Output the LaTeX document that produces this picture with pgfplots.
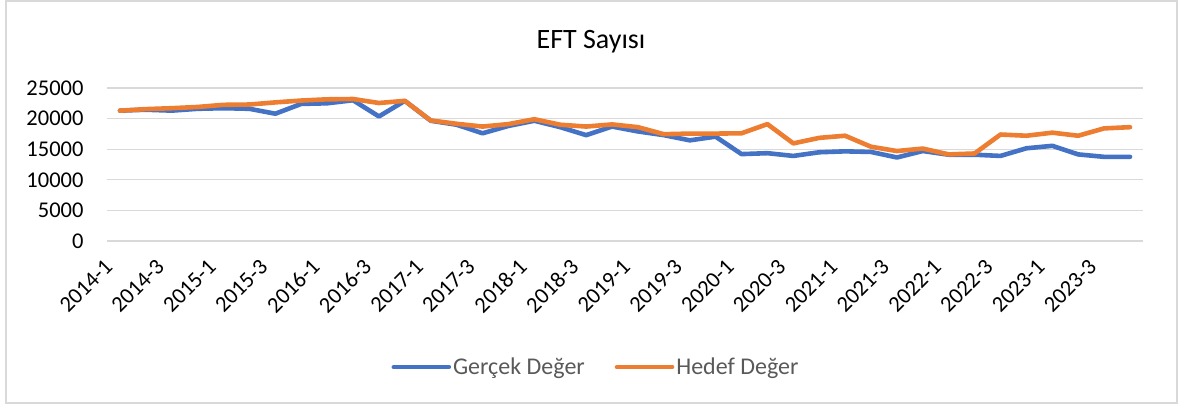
\documentclass[border=0pt]{standalone}
\usepackage{pgfplots}
\pgfplotsset{compat=1.18}
\usepackage{fontspec}
\setmainfont{Carlito}
\definecolor{gercek}{HTML}{4472C4}
\definecolor{hedef}{HTML}{ED7D31}
\definecolor{gridc}{HTML}{D9D9D9}
\definecolor{legtxt}{HTML}{595959}

\begin{document}
\begin{tikzpicture}
\useasboundingbox (0,0) rectangle (1179pt,407pt);
\draw[gridc, line width=1.5pt] (6pt,4pt) rectangle (1177pt,406pt);
\node[font=\fontsize{28}{34}\selectfont] at (591pt,365pt) {EFT Sayısı};
\begin{axis}[
  at={(107pt,166pt)}, anchor=south west,
  scale only axis, width=1036pt, height=153pt,
  xmin=-0.5, xmax=39.5, ymin=0, ymax=25000,
  ytick={0,5000,10000,15000,20000,25000},
  scaled y ticks=false,
  xtick={0,2,...,38},
  xticklabels={2014-1,2014-3,2015-1,2015-3,2016-1,2016-3,2017-1,2017-3,2018-1,2018-3,
    2019-1,2019-3,2020-1,2020-3,2021-1,2021-3,2022-1,2022-3,2023-1,2023-3},
  ymajorgrids, grid style={gridc, line width=1.3pt},
  axis line style={draw=none}, tick style={draw=none},
  /pgf/number format/assume math mode=true,
  yticklabel style={/pgf/number format/.cd, fixed, set thousands separator={}, /tikz/.cd,
    font=\fontsize{22.5}{27}\selectfont, anchor=east, xshift=-20pt},
  xticklabel style={xshift=-9pt, yshift=-20pt, rotate=45, anchor=east,
    font=\fontsize{22.5}{27}\selectfont},
  legend columns=2,
  legend style={at={(0.472,-0.824)}, anchor=center, draw=none, fill=none,
    font=\fontsize{24}{29}\selectfont, text=legtxt,
    /tikz/every even column/.append style={column sep=28pt}},
  legend image code/.code={\draw[#1, line cap=round] (0pt,0pt) -- (55pt,0pt);},
  every axis plot/.append style={line width=4.6pt, line join=round, line cap=round},
]
\addplot[gercek] coordinates {
(0,21300)(1,21450)(2,21300)(3,21600)(4,21700)(5,21600)(6,20800)(7,22400)(8,22500)(9,23000)
(10,20350)(11,22900)(12,19650)(13,19000)(14,17600)(15,18800)(16,19650)(17,18600)(18,17300)(19,18700)
(20,17900)(21,17300)(22,16450)(23,17050)(24,14200)(25,14350)(26,13900)(27,14500)(28,14650)(29,14550)
(30,13650)(31,14700)(32,14100)(33,14100)(34,13900)(35,15150)(36,15550)(37,14150)(38,13750)(39,13750)};
\addlegendentry{Gerçek Değer}
\addplot[hedef] coordinates {
(0,21300)(1,21550)(2,21700)(3,21900)(4,22250)(5,22300)(6,22650)(7,22950)(8,23150)(9,23200)
(10,22550)(11,22900)(12,19700)(13,19150)(14,18700)(15,19100)(16,19900)(17,19000)(18,18700)(19,19050)
(20,18600)(21,17450)(22,17550)(23,17550)(24,17600)(25,19100)(26,15950)(27,16850)(28,17200)(29,15400)
(30,14700)(31,15100)(32,14150)(33,14300)(34,17400)(35,17200)(36,17700)(37,17200)(38,18400)(39,18600)};
\addlegendentry{Hedef Değer}
\end{axis}
\end{tikzpicture}
\end{document}
